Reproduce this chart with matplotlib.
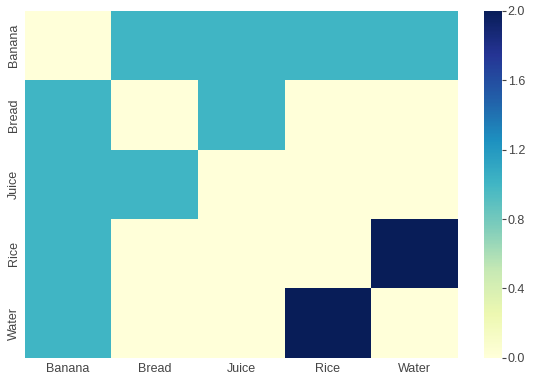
import numpy as np
import matplotlib
matplotlib.use("Agg")
import matplotlib.pyplot as plt
import seaborn as sns

labels = ["Banana", "Bread", "Juice", "Rice", "Water"]
banana = [0, 1, 1, 1, 1]
bread = [1, 0, 1, 0, 0]
juice = [1, 1, 0, 0, 0]
rice = [1, 0, 0, 0, 2]
water = [1, 0, 0, 2, 0]

sns.set_theme(style="white")
plt.rcParams["font.family"] = ["Liberation Sans", "DejaVu Sans"]

fig = plt.figure(figsize=(5.4, 3.86), dpi=100)
ax = fig.add_axes([0.046, 0.073, 0.802, 0.899])
cax = fig.add_axes([0.896, 0.073, 0.034, 0.899])
data = np.array([banana, bread, juice, rice, water])
sns.heatmap(data, cmap="YlGnBu", vmin=0, vmax=2, xticklabels=labels, yticklabels=labels,
            ax=ax, cbar_ax=cax, cbar_kws={"ticks": [0.0, 0.4, 0.8, 1.2, 1.6, 2.0]})
ax.tick_params(length=0, labelsize=9, colors="#444444")
cax.tick_params(length=3, width=0.8, labelsize=9, colors="#444444", pad=1)
cax.set_yticklabels(["0.0", "0.4", "0.8", "1.2", "1.6", "2.0"])
for t in cax.get_yticklabels():
    t.set_color("#444444")
fig.savefig("out.png", dpi=100)
